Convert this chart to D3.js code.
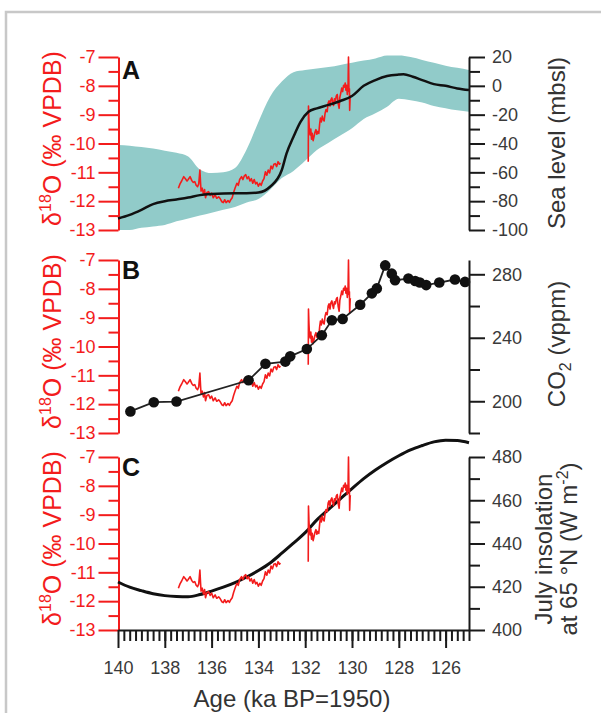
<!DOCTYPE html>
<html lang="en">
<head>
<meta charset="UTF-8">
<title>Termination II records</title>
<script src="https://cdn.jsdelivr.net/npm/d3@7"></script>
<style>
body { margin: 0; background: #fff; }
svg { display: block; font-family: "Liberation Sans", Arial, sans-serif; }
.axis text { font-size: 18px; }
.red .domain, .red line { stroke: #f31c1c; stroke-width: 2; }
.red text { fill: #f31c1c; }
.blk .domain, .blk line { stroke: #1a1a1a; stroke-width: 2; }
.blk text { fill: #3a3a3a; }
</style>
</head>
<body>
<svg id="chart" width="601" height="713"></svg>
<script>
// speleothem d18O record (two growth segments), ka BP / permil VPDB
var d18oAge1 = [137.42,137.35,137.28,137.19,137.12,137.05,137.00,136.92,136.85,136.78,136.72,136.66,136.60,136.55,136.50,136.47,136.45,136.40,136.35,136.30,136.26,136.20,136.13,136.06,136.00,135.93,135.85,135.78,135.70,135.63,135.56,135.50,135.44,135.38,135.30,135.24,135.18,135.12,135.06,135.00,134.92,134.86,134.80,134.72,134.66,134.60,134.54,134.48,134.42,134.36,134.30,134.24,134.18,134.12,134.06,134.00,133.94,133.88,133.82,133.76,133.70,133.64,133.58,133.52,133.46,133.40,133.34,133.28,133.22,133.16,133.10,133.06];
var d18oVal1 = [-11.55,-11.40,-11.30,-11.15,-11.22,-11.30,-11.25,-11.15,-11.28,-11.35,-11.32,-11.45,-11.50,-11.40,-10.92,-11.40,-11.65,-11.55,-11.75,-11.60,-11.88,-11.70,-11.67,-11.80,-11.72,-11.88,-11.78,-11.90,-11.85,-11.92,-12.02,-12.05,-11.95,-12.05,-11.98,-12.04,-11.95,-11.88,-11.70,-11.55,-11.38,-11.45,-11.25,-11.15,-11.25,-11.12,-11.08,-11.22,-11.15,-11.30,-11.22,-11.38,-11.25,-11.40,-11.35,-11.48,-11.38,-11.45,-11.30,-11.22,-10.98,-11.10,-10.92,-11.02,-10.78,-10.88,-10.72,-10.70,-10.80,-10.63,-10.72,-10.68];
var d18oAge2 = [131.87,131.86,131.84,131.82,131.79,131.76,131.73,131.70,131.66,131.62,131.58,131.54,131.50,131.46,131.42,131.38,131.35,131.31,131.27,131.23,131.19,131.15,131.11,131.06,131.02,130.98,130.94,130.90,130.86,130.82,130.79,130.75,130.71,130.67,130.63,130.59,130.55,130.52,130.48,130.44,130.40,130.36,130.32,130.29,130.26,130.23,130.20,130.17,130.15,130.13,130.11,130.10,130.08,130.07];
var d18oVal2 = [-10.63,-8.70,-9.20,-9.55,-9.70,-9.50,-9.85,-9.65,-9.90,-9.75,-9.60,-9.52,-9.68,-9.58,-9.65,-9.30,-9.12,-9.25,-9.05,-9.18,-9.22,-8.95,-8.82,-8.90,-8.60,-8.52,-8.70,-8.48,-8.42,-8.58,-8.68,-8.45,-8.52,-8.35,-8.30,-8.62,-8.78,-8.40,-8.25,-8.08,-8.20,-7.98,-8.05,-7.90,-8.15,-7.98,-8.30,-8.05,-7.00,-8.20,-8.10,-8.85,-8.40,-8.32];

// sea level envelope and mean (m)
var seaBandAge = [140,139.5,139,138.5,138,137.5,137,136.5,136,135.5,135,134.5,134,133.5,133,132.5,132,131.5,131,130.5,130,129.5,129,128.5,128,127.5,127,126.5,126,125.5,125];
var seaHigh = [-41,-41.5,-42.5,-43.5,-45,-46.5,-49,-58,-60.5,-60,-57,-44,-25,-7.5,3,9.5,11,12,13,14.5,16,17.5,19,21,21,20,18,16,14,12.5,11];
var seaLow = [-100,-100,-98.5,-97.5,-96.5,-94,-92,-90,-88,-86,-84,-81,-78.5,-72,-64,-59,-52,-44.5,-39.5,-34.5,-29.5,-23,-19,-14.5,-9,-10,-11.5,-14,-15.5,-17,-18];
var seaAge = [140,139.5,139,138.5,138,137.5,137,136.5,136,135.5,135,134.5,134,133.5,133,132.8,132.5,132.2,131.86,131.5,131,130.5,130,129.5,129,128.5,128,127.8,127.4,127,126.5,126,125.5,125];
var seaMean = [-92,-89.5,-86,-82,-80,-78.8,-77.5,-75.8,-75,-74.6,-74.5,-74.5,-74,-70,-58.4,-47,-35.3,-25,-18,-15.6,-13.2,-10.5,-7,0,4,6.8,7.8,8,6.3,4,1.2,0,-1.8,-2.9];

// CO2 (ppmv)
var co2Age = [139.47,138.47,137.5,134.42,133.7,132.85,132.64,131.93,131.29,130.86,130.4,129.65,129.15,128.94,128.58,128.3,128.16,127.59,127.3,127.1,126.83,126.27,125.6,125.17];
var co2Val = [193.6,199.4,199.8,213.2,223.6,225,228.3,232.9,241.6,251,251.9,260.8,268,271.1,285.6,280.4,276.3,277.3,275.8,274.8,273.2,274.8,276.7,275.2];

// July insolation 65N (W m-2)
var insAge = [140,139.5,139,138.5,138,137.5,137,136.5,136,135.5,135,134.5,134,133.5,133,132.5,132,131.5,131,130.5,130,129.5,129,128.5,128,127.5,127,126.5,126,125.5,125];
var insVal = [422.2,419.8,418.2,416.8,415.9,415.5,415.4,416.4,418,419.8,421.9,424.5,427.5,431,435.5,440.2,445,450.9,455.8,460.6,465.4,470,474,477.5,480.6,483.3,485.3,487,487.8,487.6,486.6];

var d18oTicks = [-7,-8,-9,-10,-11,-12,-13];
var d18oMinor = [-7.5,-8.5,-9.5,-10.5,-11.5,-12.5];
var seaTicks = [20,0,-20,-40,-60,-80,-100];
var seaMinor = [10,-10,-30,-50,-70,-90];
var co2Ticks = [200,240,280];
var co2Minor = [180,220,260];
var insTicks = [400,420,440,460,480];
var insMinor = [410,430,450,470];
var ageTicks = [140,138,136,134,132,130,128,126];
var ageMinor = d3.range(125, 140, 0.25);

var red = "#f31c1c";
var svg = d3.select("#chart");

// grey frame
svg.append("rect").attr("x", 6).attr("y", 12).attr("width", 700).attr("height", 800)
  .attr("fill", "none").attr("stroke", "#c8c8c8").attr("stroke-width", 2.5);

var xL = 118.5, xR = 469;
var x = d3.scaleLinear().domain([140, 125]).range([118, 469]);

var panels = [
  { top: 57, bot: 230, label: "A" },
  { top: 260, bot: 433, label: "B" },
  { top: 457, bot: 630, label: "C" }
];

function d18oPts(a, v) { return a.map(function (d, i) { return [d, v[i]]; }); }
var seg1 = d18oPts(d18oAge1, d18oVal1), seg2 = d18oPts(d18oAge2, d18oVal2);

function leftAxis(p) {
  var y = d3.scaleLinear().domain([-13, -7]).range([p.bot, p.top]);
  var g = svg.append("g").attr("class", "axis red").attr("transform", "translate(" + xL + ",0)");
  g.call(d3.axisLeft(y).tickValues(d18oTicks).tickSize(20).tickSizeOuter(0).tickPadding(3).tickFormat(function (d) { return String(d); }));
  g.append("g").call(d3.axisLeft(y).tickValues(d18oMinor).tickSize(10).tickFormat(""))
    .select(".domain").remove();
  // rotated title
  var t = svg.append("text").attr("transform", "translate(61," + ((p.top + p.bot) / 2 - 5) + ") rotate(-90)")
    .attr("text-anchor", "middle").attr("fill", red).attr("font-size", 25);
  t.append("tspan").text("δ");
  t.append("tspan").attr("font-size", 16).attr("dy", -10).text("18");
  t.append("tspan").attr("dy", 10).text("O (‰ VPDB)");
  svg.append("text").attr("x", 122).attr("y", p.label == "A" ? 79 : p.top + 19)
    .attr("font-size", 25).attr("font-weight", "bold").attr("fill", "#111").text(p.label);
  return y;
}

function rightAxis(y, major, minor) {
  var g = svg.append("g").attr("class", "axis blk").attr("transform", "translate(" + xR + ",0)");
  g.call(d3.axisRight(y).tickValues(major).tickSize(16).tickSizeOuter(0).tickPadding(7).tickFormat(function (d) { return String(d); }));
  g.append("g").call(d3.axisRight(y).tickValues(minor).tickSize(11).tickFormat(""))
    .select(".domain").remove();
}

function redLine(y) {
  var line = d3.line().x(function (d) { return x(d[0]); }).y(function (d) { return y(d[1]); });
  [seg1, seg2].forEach(function (s) {
    svg.append("path").attr("d", line(s)).attr("fill", "none").attr("stroke", red)
      .attr("stroke-width", 1.6).attr("stroke-linejoin", "round");
  });
}

// ---- Panel A
var pA = panels[0];
var ySea = d3.scaleLinear().domain([-100, 20]).range([pA.bot, pA.top]);
var band = d3.area().x(function (d, i) { return x(seaBandAge[i]); })
  .y0(function (d, i) { return ySea(seaLow[i]); }).y1(function (d, i) { return ySea(seaHigh[i]); })
  .curve(d3.curveMonotoneX);
svg.append("path").attr("d", band(seaBandAge)).attr("fill", "#91cbc9");
var yA = leftAxis(pA);
redLine(yA);
svg.append("path").attr("d", d3.line().curve(d3.curveMonotoneX)
    .x(function (d, i) { return x(seaAge[i]); }).y(function (d) { return ySea(d); })(seaMean))
  .attr("fill", "none").attr("stroke", "#111").attr("stroke-width", 2.5);
rightAxis(ySea, seaTicks, seaMinor);
svg.append("text").attr("transform", "translate(565,143) rotate(-90)").attr("text-anchor", "middle")
  .attr("font-size", 24).attr("fill", "#333").text("Sea level (mbsl)");

// ---- Panel B
var pB = panels[1];
var yCO2 = d3.scaleLinear().domain([180, 289]).range([pB.bot, pB.top]);
var yB = leftAxis(pB);
redLine(yB);
svg.append("path").attr("d", d3.line()
    .x(function (d, i) { return x(co2Age[i]); }).y(function (d) { return yCO2(d); })(co2Val))
  .attr("fill", "none").attr("stroke", "#222").attr("stroke-width", 1.8);
svg.selectAll(".co2").data(co2Val).enter().append("circle")
  .attr("cx", function (d, i) { return x(co2Age[i]); }).attr("cy", function (d) { return yCO2(d); })
  .attr("r", 5.3).attr("fill", "#111");
rightAxis(yCO2, co2Ticks, co2Minor);
var tB = svg.append("text").attr("transform", "translate(565,344) rotate(-90)").attr("text-anchor", "middle")
  .attr("font-size", 24).attr("fill", "#333");
tB.append("tspan").text("CO");
tB.append("tspan").attr("font-size", 16).attr("dy", 6).text("2");
tB.append("tspan").attr("dy", -6).text(" (vppm)");

// ---- Panel C
var pC = panels[2];
var yIns = d3.scaleLinear().domain([400, 480]).range([pC.bot, pC.top]);
var yC = leftAxis(pC);
svg.append("path").attr("d", d3.line().curve(d3.curveMonotoneX)
    .x(function (d, i) { return x(insAge[i]); }).y(function (d) { return yIns(d); })(insVal))
  .attr("fill", "none").attr("stroke", "#111").attr("stroke-width", 3);
redLine(yC);
rightAxis(yIns, insTicks, insMinor);
svg.append("text").attr("transform", "translate(552,549) rotate(-90)").attr("text-anchor", "middle")
  .attr("font-size", 24).attr("fill", "#333").text("July insolation");
var tC = svg.append("text").attr("transform", "translate(577,549) rotate(-90)").attr("text-anchor", "middle")
  .attr("font-size", 24).attr("fill", "#333");
tC.append("tspan").text("at 65 °N (W m");
tC.append("tspan").attr("font-size", 16).attr("dy", -9).text("-2");
tC.append("tspan").attr("dy", 9).text(")");

// ---- bottom age axis
var gx = svg.append("g").attr("class", "axis blk").attr("transform", "translate(0," + pC.bot + ")");
gx.call(d3.axisBottom(x).tickValues(ageTicks).tickSize(18).tickSizeOuter(0).tickPadding(13));
gx.append("g").call(d3.axisBottom(x).tickValues(ageMinor).tickSize(11).tickFormat(""))
  .select(".domain").remove();
svg.append("text").attr("x", 292).attr("y", 707).attr("text-anchor", "middle")
  .attr("font-size", 24).attr("fill", "#333").text("Age (ka BP=1950)");
</script>
</body>
</html>
